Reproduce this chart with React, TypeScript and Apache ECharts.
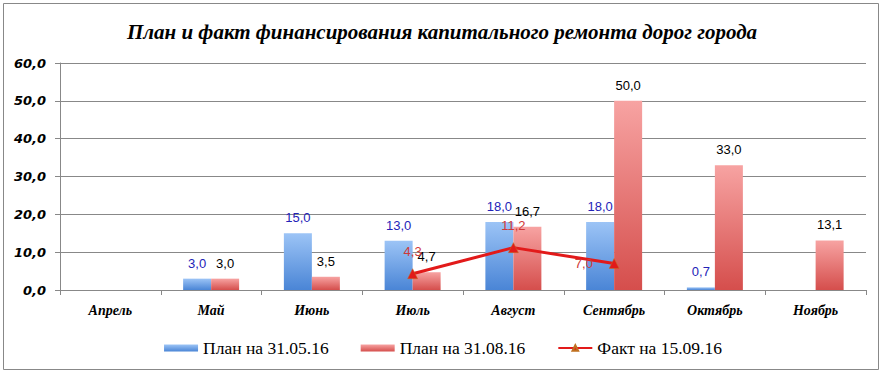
import React, { useEffect, useRef } from "react";
import * as echarts from "echarts";

const categories = ["Апрель", "Май", "Июнь", "Июль", "Август", "Сентябрь", "Октябрь", "Ноябрь"];
const plan0531: (number | null)[] = [null, 3.0, 15.0, 13.0, 18.0, 18.0, 0.7, null];
const plan0831: (number | null)[] = [null, 3.0, 3.5, 4.7, 16.7, 50.0, 33.0, 13.1];
const fact0915: (number | null)[] = [null, null, null, 4.3, 11.2, 7.0, null, null];
const seriesNames = ["План на 31.05.16", "План на 31.08.16", "Факт на 15.09.16"];
const titleText = "План и факт финансирования капитального ремонта дорог города";

const fmt = (v: any) => {
  const n = Array.isArray(v.value) ? v.value[1] : v.value;
  if (n === null || n === undefined) return "";
  return Number(n).toFixed(1).replace(".", ",");
};

export default function App() {
  const ref = useRef<HTMLDivElement>(null);
  useEffect(() => {
    const chart = echarts.init(ref.current!, null, { renderer: "svg" });
    const blueGrad = new echarts.graphic.LinearGradient(0, 0, 0, 1, [
      { offset: 0, color: "#9cc4f6" },
      { offset: 1, color: "#4a85d6" },
    ]);
    const redGrad = new echarts.graphic.LinearGradient(0, 0, 0, 1, [
      { offset: 0, color: "#f7a3a2" },
      { offset: 1, color: "#d54e4c" },
    ]);
    const factLabelPos: any[] = [null, null, null,
      { position: "top", distance: 10 },
      { position: "top", distance: 10 },
      { position: "left", distance: 16 },
      null, null];
    const factData = fact0915.map((v, i) =>
      v === null ? null : { value: v, label: factLabelPos[i] }
    );
    chart.setOption({
      animation: false,
      backgroundColor: "#ffffff",
      title: {
        text: titleText,
        left: 437,
        textAlign: "center",
        top: 16,
        textStyle: {
          fontFamily: "Liberation Serif",
          fontStyle: "italic",
          fontWeight: "bold",
          fontSize: 21,
          color: "#000",
        },
      },
      graphic: [
        {
          type: "rect",
          shape: { x: 3.5, y: 3.5, width: 875, height: 366 },
          style: { fill: "none", stroke: "#888", lineWidth: 1 },
          silent: true,
        },
      ],
      legend: {
        top: 334,
        left: "center",
        itemGap: 32,
        itemWidth: 34,
        itemHeight: 7,
        textStyle: {
          fontFamily: "'Liberation Serif', serif",
          fontSize: 17.5,
          color: "#000",
        },
        data: [
          { name: seriesNames[0], icon: "rect" },
          { name: seriesNames[1], icon: "rect" },
          { name: seriesNames[2] },
        ],
      },
      grid: { left: 60, right: 20, top: 63, bottom: 85, containLabel: false },
      xAxis: {
        type: "category",
        data: categories,
        axisLine: { lineStyle: { color: "#888" } },
        axisTick: { show: true, length: 5, lineStyle: { color: "#888" } },
        axisLabel: {
          fontFamily: "Liberation Serif",
          fontStyle: "italic",
          fontWeight: "bold",
          fontSize: 14,
          color: "#000",
          margin: 13,
        },
      },
      yAxis: {
        type: "value",
        min: 0,
        max: 60,
        interval: 10,
        axisLine: { show: true, lineStyle: { color: "#888" } },
        axisTick: { show: true, length: 5, lineStyle: { color: "#888" } },
        splitLine: { lineStyle: { color: "#888" } },
        axisLabel: {
          formatter: (v: number) => v.toFixed(1).replace(".", ","),
          fontFamily: "DejaVu Sans",
          fontStyle: "italic",
          fontWeight: "bold",
          fontSize: 13,
          color: "#000",
          margin: 14,
        },
      },
      series: [
        {
          name: seriesNames[0],
          type: "bar",
          data: plan0531,
          barWidth: 28,
          barGap: "0%",
          itemStyle: { color: blueGrad },
          label: {
            show: true,
            position: "top",
            distance: 9,
            formatter: fmt,
            color: "#2323b8",
            fontFamily: "Liberation Sans",
            fontSize: 13,
          },
        },
        {
          name: seriesNames[1],
          type: "bar",
          data: plan0831,
          barWidth: 28,
          itemStyle: { color: redGrad },
          label: {
            show: true,
            position: "top",
            distance: 9,
            formatter: fmt,
            color: "#000",
            fontFamily: "Liberation Sans",
            fontSize: 13,
          },
        },
        {
          name: seriesNames[2],
          type: "line",
          data: factData,
          symbol: "triangle",
          symbolSize: 10,
          lineStyle: { color: "#e21a1a", width: 3 },
          itemStyle: { color: "#e21a1a", borderColor: "#c07020", borderWidth: 0.5 },
          label: {
            show: true,
            position: "top",
            formatter: fmt,
            color: "#d03838",
            fontFamily: "Liberation Sans",
            fontSize: 13,
          },
        },
      ],
    });
    return () => chart.dispose();
  }, []);
  return (
    <div
      ref={ref}
      style={{ position: "absolute", left: 0, top: 0, width: 886, height: 375 }}
    />
  );
}
